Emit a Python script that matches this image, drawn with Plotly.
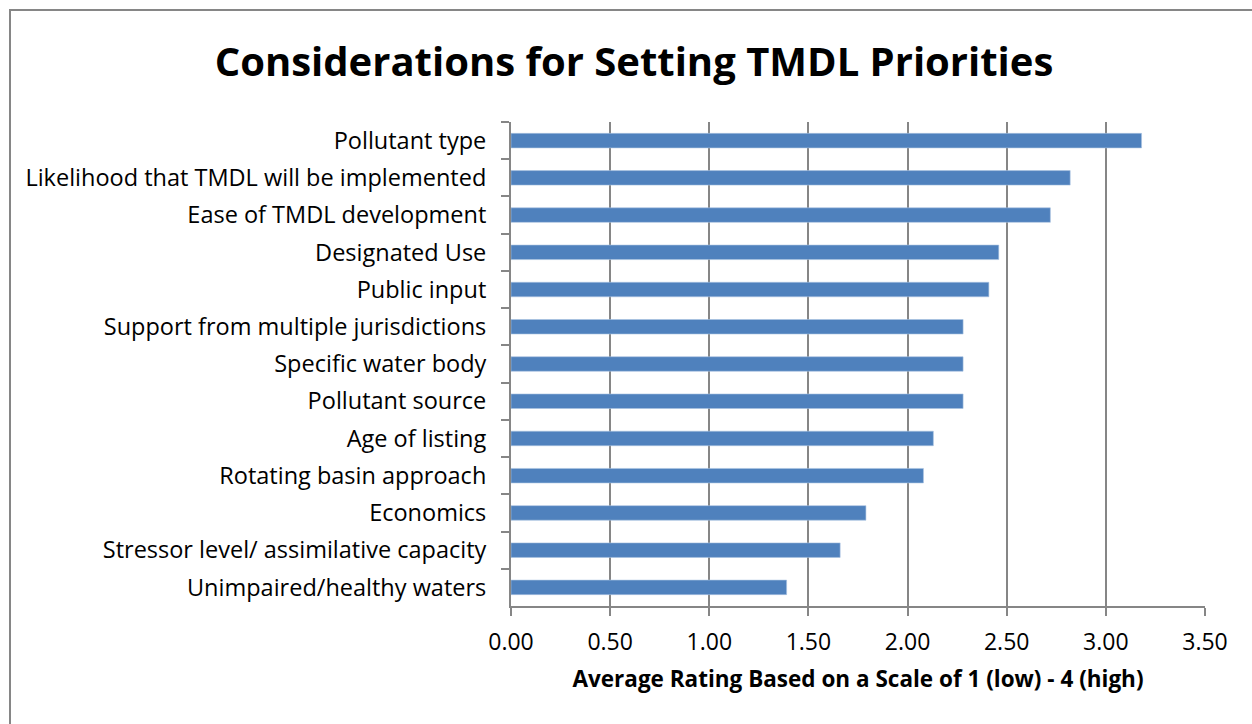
import plotly.graph_objects as go

# Survey results: average rating per consideration (scale 1 low - 4 high)
categories = [
    "Pollutant type",
    "Likelihood that TMDL will be implemented",
    "Ease of TMDL development",
    "Designated Use",
    "Public input",
    "Support from multiple jurisdictions",
    "Specific water body",
    "Pollutant source",
    "Age of listing",
    "Rotating basin approach",
    "Economics",
    "Stressor level/ assimilative capacity",
    "Unimpaired/healthy waters",
]
ratings = [3.18, 2.82, 2.72, 2.46, 2.41, 2.28, 2.28, 2.28, 2.13, 2.08, 1.79, 1.66, 1.39]
x_ticks = [0.0, 0.5, 1.0, 1.5, 2.0, 2.5, 3.0, 3.5]

FONT = "Open Sans"
GRID = "#868686"

fig = go.Figure(
    go.Bar(
        x=ratings,
        y=categories,
        orientation="h",
        marker=dict(color="#4F81BD", line=dict(color="#A9C2E0", width=0.6)),
        hoverinfo="skip",
    )
)

W, H = 1252, 724
L, R, T, B = 511, 47, 122, 118
pw, ph = W - L - R, H - T - B

fig.update_layout(
    width=W,
    height=H,
    margin=dict(l=L, r=R, t=T, b=B, autoexpand=False),
    paper_bgcolor="white",
    plot_bgcolor="white",
    bargap=0.61,
    showlegend=False,
    font=dict(family=FONT, color="black"),
    title=dict(
        text="<b>Considerations for Setting TMDL Priorities</b>",
        x=634 / W,
        xanchor="center",
        y=1 - 62 / H,
        yanchor="middle",
        font=dict(family=FONT, size=40, color="black"),
    ),
    xaxis=dict(
        range=[0, 3.5],
        tickvals=x_ticks,
        ticktext=[f"{v:.2f}" for v in x_ticks],
        showgrid=True,
        gridcolor=GRID,
        gridwidth=2,
        zeroline=False,
        showline=True,
        linecolor=GRID,
        linewidth=2,
        ticks="outside",
        ticklen=8,
        tickwidth=1.5,
        tickcolor=GRID,
        ticklabelstandoff=6,
        tickfont=dict(family=FONT, size=23, color="black"),
        title=dict(
            text="<b>Average Rating Based on a Scale of 1 (low) - 4 (high)</b>",
            font=dict(family=FONT, size=22.5, color="black"),
            standoff=16,
        ),
        fixedrange=True,
    ),
    yaxis=dict(
        type="category",
        autorange="reversed",
        showgrid=False,
        showline=True,
        linecolor=GRID,
        linewidth=2,
        ticks="outside",
        tickson="boundaries",
        ticklen=8,
        tickwidth=1.5,
        tickcolor=GRID,
        ticklabelstandoff=18,
        tickfont=dict(family=FONT, size=23.5, color="black"),
        fixedrange=True,
    ),
)

# Outer chart frame
fig.add_shape(
    type="rect",
    xref="paper",
    yref="paper",
    x0=(10 - L) / pw,
    x1=(W + 20 - L) / pw,
    y0=-(H + 20 - (T + ph)) / ph,
    y1=(T + ph - 10) / ph,
    line=dict(color=GRID, width=2),
    fillcolor="rgba(0,0,0,0)",
    layer="below",
)

fig.write_html("out.html", config={"displayModeBar": False})
